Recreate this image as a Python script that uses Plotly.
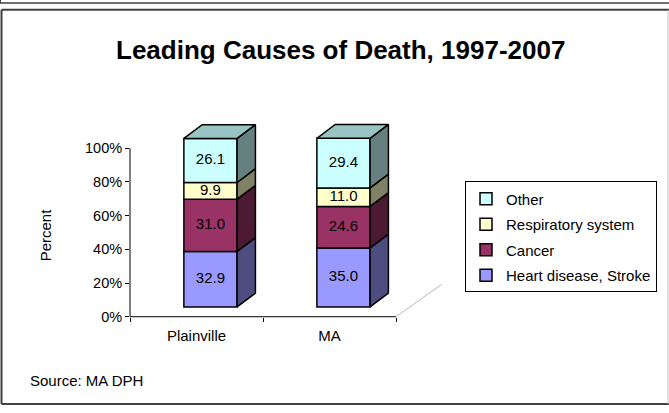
import plotly.graph_objects as go

# ---- data ----
categories = ["Plainville", "MA"]
series_names = ["Heart disease, Stroke", "Cancer", "Respiratory system", "Other"]
heart = [32.9, 35.0]
cancer = [31.0, 24.6]
respiratory = [9.9, 11.0]
other = [26.1, 29.4]
y_ticks = [0, 20, 40, 60, 80, 100]
y_tick_labels = ["0%", "20%", "40%", "60%", "80%", "100%"]

series_values = [heart, cancer, respiratory, other]
front_colors = ["#9999FF", "#993366", "#FFFFCC", "#CCFFFF"]
side_colors = ["#4D4D80", "#4D1A33", "#808066", "#668080"]
top_colors = ["#7373BF", "#73264D", "#BFBF99", "#99C4C4"]

FONT = "Liberation Sans, Arial, sans-serif"
W, H = 669, 413

# pseudo-3D projection parameters (axis units)
BAR_OFF = -0.095      # left edge of bar front relative to category centre
BAR_W = 0.40          # bar front width
LIFT = 5.8            # front face lifted above floor (percent units)
DX = 0.138            # depth in x (axis units)
DY = 8.2              # depth in y (percent units)
FLOOR_DX = 0.343
FLOOR_DY = 19.2

# pixel layout of the plot area
X_LEFT, X_FLOOR_END, X_RIGHT = 130, 396, 470
Y_ZERO, Y_HUNDRED, Y_TOP = 323, 151, 110
PX_PER_CAT = (X_FLOOR_END - X_LEFT) / len(categories)
PX_PER_PCT = (Y_ZERO - Y_HUNDRED) / 100.0

xpos = list(range(len(categories)))

fig = go.Figure()

bases = []
cum = [0.0] * len(categories)
for vals in series_values:
    bases.append(cum[:])
    cum = [c + v for c, v in zip(cum, vals)]

# floor diagonal line
fig.add_trace(go.Scatter(
    x=[len(categories) - 0.5, len(categories) - 0.5 + FLOOR_DX],
    y=[0, FLOOR_DY], mode="lines",
    line=dict(color="#B8B8B8", width=1),
    showlegend=False, hoverinfo="skip", cliponaxis=False))

# front faces as bars
n = len(series_names)
for i, (name, vals) in enumerate(zip(series_names, series_values)):
    fig.add_trace(go.Bar(
        x=xpos, y=vals, base=[b + LIFT for b in bases[i]],
        offset=BAR_OFF, width=BAR_W,
        marker=dict(color=front_colors[i], line=dict(color="black", width=1.5)),
        name=name, legendgroup=name, legendrank=n - i,
        cliponaxis=False, hoverinfo="skip"))

# side faces and top face
for i, vals in enumerate(series_values):
    for j, v in enumerate(vals):
        xr = xpos[j] + BAR_OFF + BAR_W
        y0 = bases[i][j] + LIFT
        y1 = y0 + v
        fig.add_trace(go.Scatter(
            x=[xr, xr + DX, xr + DX, xr, xr],
            y=[y0, y0 + DY, y1 + DY, y1, y0],
            mode="lines", fill="toself", fillcolor=side_colors[i],
            line=dict(color="black", width=1.5),
            showlegend=False, hoverinfo="skip"))
        if i == len(series_values) - 1:
            xl = xpos[j] + BAR_OFF
            fig.add_trace(go.Scatter(
                x=[xl, xr, xr + DX, xl + DX, xl],
                y=[y1, y1, y1 + DY, y1 + DY, y1],
                mode="lines", fill="toself", fillcolor=top_colors[i],
                line=dict(color="black", width=1.5),
                showlegend=False, hoverinfo="skip"))

# value labels
for i, vals in enumerate(series_values):
    fig.add_trace(go.Scatter(
        x=[p + BAR_OFF + BAR_W / 2 for p in xpos],
        y=[b + LIFT + v / 2 for b, v in zip(bases[i], vals)],
        mode="text", text=[f"{v:.1f}" for v in vals],
        textfont=dict(family=FONT, size=15, color="black"),
        showlegend=False, hoverinfo="skip", cliponaxis=False))

px = lambda x: x / W
py = lambda y: 1 - y / H

x_range = [-0.5, -0.5 + (X_RIGHT - X_LEFT) / PX_PER_CAT]
y_range = [0, (Y_ZERO - Y_TOP) / PX_PER_PCT]

fig.update_layout(
    width=W, height=H,
    margin=dict(l=0, r=0, t=0, b=0),
    paper_bgcolor="white", plot_bgcolor="rgba(0,0,0,0)",
    barmode="overlay",
    font=dict(family=FONT, size=15, color="black"),
    xaxis=dict(domain=[px(X_LEFT), px(X_RIGHT)], range=x_range,
               showline=False,
               tickvals=xpos, ticktext=categories, ticks="",
               ticklabelstandoff=8,
               tickfont=dict(family=FONT, size=15),
               showgrid=False, zeroline=False, fixedrange=True,
               minor=dict(tickvals=[-0.5 + k for k in range(len(categories) + 1)],
                          ticks="outside", ticklen=4, tickcolor="black", showgrid=False)),
    yaxis=dict(domain=[py(Y_ZERO), py(Y_TOP)], range=y_range,
               showline=False,
               tickvals=y_ticks, ticktext=y_tick_labels,
               ticks="outside", ticklen=4, tickcolor="black",
               tickfont=dict(family=FONT, size=14.5),
               showgrid=False, zeroline=False, fixedrange=True),
    legend=dict(x=px(465), y=py(185), xanchor="left", yanchor="top",
                bordercolor="black", borderwidth=1, bgcolor="white",
                traceorder="grouped", tracegroupgap=3,
                font=dict(family=FONT, size=15), itemwidth=30),
    showlegend=True,
    annotations=[
        dict(text="<b>Leading Causes of Death, 1997-2007</b>", x=px(341), y=py(51),
             xref="paper", yref="paper", xanchor="center", yanchor="middle", showarrow=False,
             font=dict(family=FONT, size=26, color="black")),
        dict(text="Percent", x=px(45), y=py(240), xref="paper", yref="paper",
             xanchor="center", yanchor="middle",
             textangle=-90, showarrow=False, font=dict(family=FONT, size=15)),
        dict(text="Source: MA DPH", x=px(28), y=py(388), xref="paper", yref="paper",
             xanchor="left", yanchor="middle", showarrow=False, font=dict(family=FONT, size=15)),
    ],
    shapes=[
        # axis lines (value axis up to 100 %, floor up to last category boundary)
        dict(type="line", xref="paper", yref="y", x0=px(X_LEFT), x1=px(X_LEFT), y0=0, y1=100,
             line=dict(color="black", width=1)),
        dict(type="line", xref="x", yref="paper", x0=-0.5, x1=len(categories) - 0.5,
             y0=py(Y_ZERO), y1=py(Y_ZERO), line=dict(color="black", width=1)),
        # frame
        dict(type="line", xref="paper", yref="paper", x0=0, x1=1, y0=py(3), y1=py(3),
             line=dict(color="#404040", width=1.5)),
        dict(type="line", xref="paper", yref="paper", x0=px(0.5), x1=px(0.5), y0=1, y1=py(3),
             line=dict(color="#404040", width=1)),
        dict(type="line", xref="paper", yref="paper", x0=px(1.5), x1=1, y0=py(10), y1=py(10),
             line=dict(color="#404040", width=2)),
        dict(type="line", xref="paper", yref="paper", x0=px(1.5), x1=px(1.5), y0=py(10), y1=py(412),
             line=dict(color="#404040", width=2)),
        dict(type="line", xref="paper", yref="paper", x0=px(1.5), x1=1, y0=py(412), y1=py(412),
             line=dict(color="#404040", width=2)),
        dict(type="line", xref="paper", yref="paper", x0=px(668), x1=px(668), y0=py(10), y1=py(412),
             line=dict(color="#C0C0C0", width=1)),
    ],
)

fig.write_html("out.html", config={"displayModeBar": False},
               post_script="document.body.style.margin='0';document.body.style.overflow='hidden';")
